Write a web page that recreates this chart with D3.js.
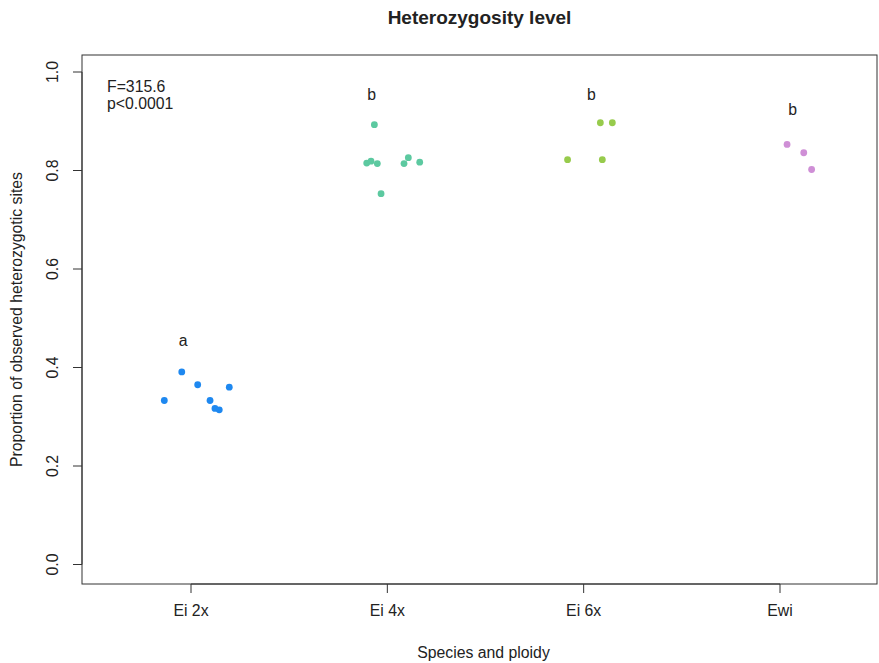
<!DOCTYPE html>
<html>
<head>
<meta charset="utf-8">
<script src="https://cdn.jsdelivr.net/npm/d3@7"></script>
<style>
  body { margin: 0; background: #fff; }
  text { font-family: "Liberation Sans", Arial, sans-serif; fill: #222; }
</style>
</head>
<body>
<svg id="chart" width="879" height="663"></svg>
<script>
// ---- data ----
const categories = ["Ei 2x", "Ei 4x", "Ei 6x", "Ewi"];
const colors = ["#1E88F0", "#5CC9A0", "#97CB4C", "#CF8FD6"];
// jittered x positions (category units, 1..4) and values
const xEi2x = [0.864, 0.953, 1.034, 1.195, 1.097, 1.122, 1.144];
const yEi2x = [0.333, 0.391, 0.365, 0.360, 0.333, 0.317, 0.314];
const xEi4x = [1.934, 1.895, 1.917, 1.949, 1.968, 2.085, 2.107, 2.165];
const yEi4x = [0.893, 0.815, 0.819, 0.814, 0.753, 0.814, 0.826, 0.817];
const xEi6x = [2.918, 3.085, 3.146, 3.095];
const yEi6x = [0.822, 0.897, 0.897, 0.822];
const xEwi = [4.036, 4.121, 4.161];
const yEwi = [0.853, 0.836, 0.802];
const groupLetters = ["a", "b", "b", "b"];
const letterX = [0.96, 1.92, 3.04, 4.065];
const letterY = [0.455, 0.955, 0.955, 0.923];
const yTicks = [0.0, 0.2, 0.4, 0.6, 0.8, 1.0];
const statLines = ["F=315.6", "p<0.0001"];

const groups = [
  {xs: xEi2x, ys: yEi2x},
  {xs: xEi4x, ys: yEi4x},
  {xs: xEi6x, ys: yEi6x},
  {xs: xEwi, ys: yEwi}
];

// ---- layout ----
const svg = d3.select("#chart");
const box = {left: 82, right: 877, top: 55, bottom: 584};
const fs = 15.8;

const x = d3.scaleLinear().domain([1, 4]).range([191, 780]);
const y = d3.scaleLinear().domain([0, 1]).range([564.5, 72]);

// plot box
svg.append("rect")
  .attr("x", box.left).attr("y", box.top)
  .attr("width", box.right - box.left).attr("height", box.bottom - box.top)
  .attr("fill", "none").attr("stroke", "#333").attr("stroke-width", 1);

// y axis
const yAxis = svg.append("g").attr("transform", `translate(${box.left},0)`);
yAxis.append("line").attr("x1", 0).attr("x2", 0)
  .attr("y1", y(0)).attr("y2", y(1)).attr("stroke", "#333");
yAxis.selectAll(".yt").data(yTicks).enter().append("line")
  .attr("x1", -9).attr("x2", 0)
  .attr("y1", d => y(d)).attr("y2", d => y(d)).attr("stroke", "#333");
yAxis.selectAll(".yl").data(yTicks).enter().append("text")
  .attr("transform", d => `translate(-30,${y(d)}) rotate(-90)`)
  .attr("text-anchor", "middle").attr("dy", "0.35em")
  .attr("font-size", fs)
  .text(d => d.toFixed(1));

// x axis
const xAxis = svg.append("g").attr("transform", `translate(0,${box.bottom})`);
xAxis.append("line").attr("x1", x(1)).attr("x2", x(4))
  .attr("y1", 0).attr("y2", 0).attr("stroke", "#333");
xAxis.selectAll(".xt").data(categories).enter().append("line")
  .attr("x1", (d, i) => x(i + 1)).attr("x2", (d, i) => x(i + 1))
  .attr("y1", 0).attr("y2", 9).attr("stroke", "#333");
xAxis.selectAll(".xl").data(categories).enter().append("text")
  .attr("x", (d, i) => x(i + 1)).attr("y", 32)
  .attr("text-anchor", "middle").attr("font-size", fs)
  .text(d => d);

// points
groups.forEach((g, gi) => {
  svg.append("g").selectAll("circle")
    .data(g.ys.map((v, i) => ({x: g.xs[i], y: v})))
    .enter().append("circle")
    .attr("cx", d => x(d.x)).attr("cy", d => y(d.y))
    .attr("r", 3.4).attr("fill", colors[gi]);
});

// group letters
svg.selectAll(".letter").data(groupLetters).enter().append("text")
  .attr("x", (d, i) => x(letterX[i])).attr("y", (d, i) => y(letterY[i]))
  .attr("dy", "0.35em").attr("text-anchor", "middle")
  .attr("font-size", fs).text(d => d);

// stats
svg.selectAll(".stat").data(statLines).enter().append("text")
  .attr("x", 107).attr("y", (d, i) => 92 + i * 17)
  .attr("font-size", fs).text(d => d);

// title and labels
svg.append("text").attr("x", (box.left + box.right) / 2).attr("y", 24)
  .attr("text-anchor", "middle").attr("font-size", 19).attr("font-weight", "bold")
  .text("Heterozygosity level");
svg.append("text").attr("x", (box.left + box.right) / 2 + 4).attr("y", 658)
  .attr("text-anchor", "middle").attr("font-size", fs)
  .text("Species and ploidy");
svg.append("text")
  .attr("transform", `translate(22,${(box.top + box.bottom) / 2}) rotate(-90)`)
  .attr("text-anchor", "middle").attr("font-size", fs)
  .text("Proportion of observed heterozygotic sites");
</script>
</body>
</html>
